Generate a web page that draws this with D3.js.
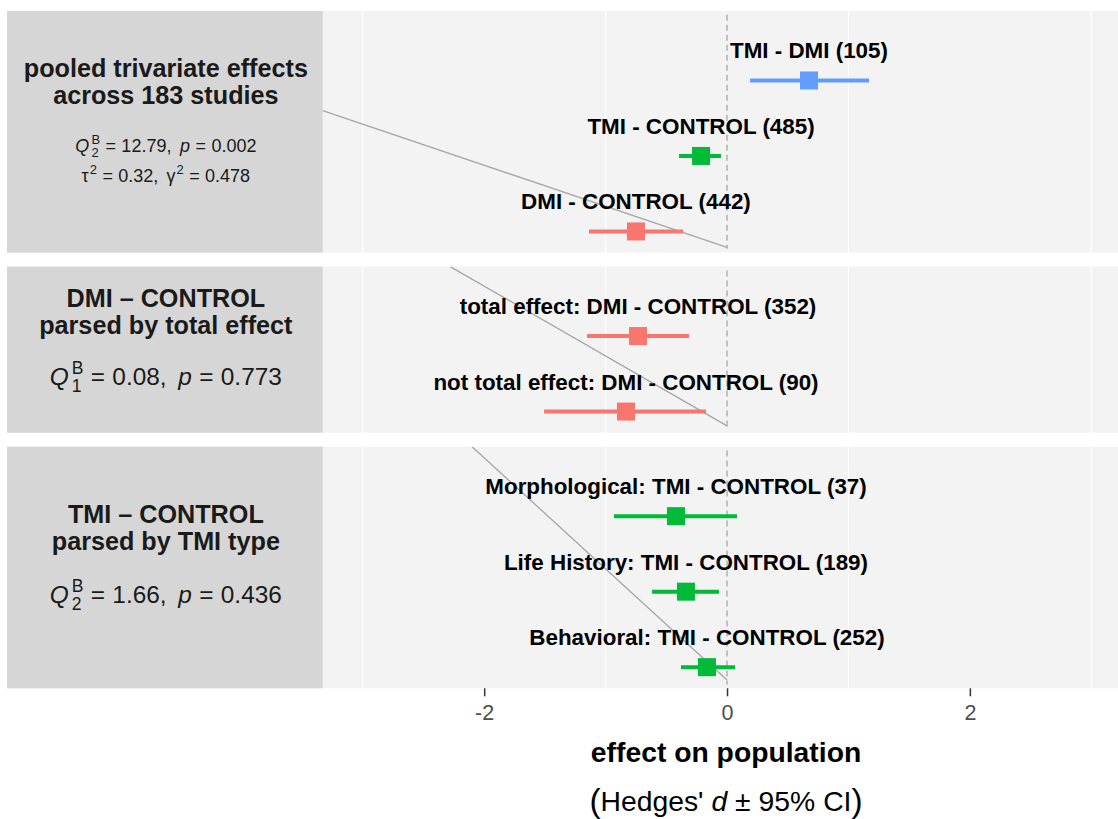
<!DOCTYPE html>
<html>
<head>
<meta charset="utf-8">
<script src="https://cdn.jsdelivr.net/npm/d3@7"></script>
<style>
  html, body { margin: 0; padding: 0; background: #ffffff; }
  svg { display: block; font-family: "Liberation Sans", Arial, Helvetica, sans-serif; }
</style>
</head>
<body>
<svg id="chart" width="1118" height="819"></svg>
<script>
// ---- data -------------------------------------------------------------
// one entry per comparison: label, panel, row (counted from the bottom of its panel)
const comparisonLabels = [
  "TMI - DMI (105)",
  "TMI - CONTROL (485)",
  "DMI - CONTROL (442)",
  "total effect: DMI - CONTROL (352)",
  "not total effect: DMI - CONTROL (90)",
  "Morphological: TMI - CONTROL (37)",
  "Life History: TMI - CONTROL (189)",
  "Behavioral: TMI - CONTROL (252)"
];
const comparisonType = ["TMI-DMI", "TMI-CONTROL", "DMI-CONTROL", "DMI-CONTROL", "DMI-CONTROL",
                        "TMI-CONTROL", "TMI-CONTROL", "TMI-CONTROL"];
const panelIndex = [0, 0, 0, 1, 1, 2, 2, 2];
const rowIndex   = [3, 2, 1, 2, 1, 3, 2, 1];
// Hedges' d with 95% confidence limits
const estimate = [0.675, -0.214, -0.750, -0.733, -0.832, -0.420, -0.338, -0.165];
const ciLower  = [0.190, -0.395, -1.137, -1.153, -1.507, -0.931, -0.618, -0.379];
const ciUpper  = [1.170, -0.050, -0.362, -0.313, -0.173,  0.082, -0.066,  0.066];

// panel annotations
const panelTitles = [
  ["pooled trivariate effects", "across 183 studies"],
  ["DMI \u2013 CONTROL", "parsed by total effect"],
  ["TMI \u2013 CONTROL", "parsed by TMI type"]
];
const panelRowCount = [3, 2, 3];
const qDf    = ["2", "1", "2"];
const qValue = ["12.79", "0.08", "1.66"];
const pValue = ["0.002", "0.773", "0.436"];
const tau2   = "0.32";
const gamma2 = "0.478";

// reference segments in each panel (effect units / row units)
const guideX0 = [-3.33, -2.28, -2.10];
const guideY0 = [2.60, 2.92, 3.92];
const guideX1 = [0, 0, 0];
const guideY1 = [0.79, 0.81, 0.83];

const xTicks = [-2, 0, 2];
const xMinorGrid = [-3, -1, 1, 3];
const xDomain = [-5.93, 3.22];
const labelBoxEdge = -3.33;

// ---- layout -----------------------------------------------------------
const colour = d3.scaleOrdinal()
  .domain(["TMI-DMI", "TMI-CONTROL", "DMI-CONTROL"])
  .range(["#619CFF", "#00BA38", "#F8766D"]);

const svg = d3.select("#chart");
const x = d3.scaleLinear().domain(xDomain).range([7, 1118]);

const rowUnit = 75.5, panelGap = 14, firstTop = 11;
const padLow = 0.28, padHigh = 0.92;
const panels = [];
let panelTop = firstTop;
panelRowCount.forEach((n) => {
  const height = (n - 1 + padLow + padHigh) * rowUnit;
  const y = d3.scaleLinear().domain([1 - padLow, n + padHigh]).range([panelTop + height, panelTop]);
  panels.push({ top: panelTop, bottom: panelTop + height, y });
  panelTop += height + panelGap;
});

// title text baselines, relative to panel top
const titleBaseline = [66, 40, 76];
const titleLineStep = 27;
const statsOffset = [48, 51, 53];
const statsLineStep = 30;

// lays out a line of mixed upright / italic / script pieces, centred on cx
function mathLine(parent, cx, baseline, size, parts, fill) {
  const g = parent.append("g").attr("fill", fill);
  let cursor = 0;
  parts.forEach(p => {
    if (p.gap !== undefined) { cursor += p.gap * size; return; }
    if (p.script) {
      const s = size * 0.72;
      const t = g.append("text").style("font-size", s + "px");
      let w = 0;
      if (p.sup) {
        const ts = t.append("tspan").attr("x", cursor).attr("y", -size * 0.42).text(p.sup);
        w = Math.max(w, ts.node().getComputedTextLength());
      }
      if (p.sub) {
        const ts = t.append("tspan").attr("x", cursor).attr("y", size * 0.3).text(p.sub);
        w = Math.max(w, ts.node().getComputedTextLength());
      }
      cursor += w;
      return;
    }
    const fs = size * (p.scale || 1);
    const t = g.append("text").attr("x", cursor).attr("y", p.dy ? p.dy * size : 0)
      .style("font-size", fs + "px")
      .style("font-style", p.italic ? "italic" : null)
      .text(p.t);
    cursor += t.node().getComputedTextLength();
  });
  g.attr("transform", `translate(${cx - cursor / 2},${baseline})`);
  return g;
}

const defs = svg.append("defs");
panels.forEach((P, i) => {
  defs.append("clipPath").attr("id", "clip" + i)
    .append("rect").attr("x", x.range()[0]).attr("y", P.top)
    .attr("width", x.range()[1] - x.range()[0]).attr("height", P.bottom - P.top);
});

panels.forEach((P, pi) => {
  const g = svg.append("g");
  // panel background
  g.append("rect").attr("x", x.range()[0]).attr("y", P.top)
    .attr("width", x.range()[1] - x.range()[0]).attr("height", P.bottom - P.top)
    .attr("fill", "#F3F3F3");
  // grid
  g.selectAll("line.grid").data(xMinorGrid).join("line")
    .attr("x1", d => x(d)).attr("x2", d => x(d))
    .attr("y1", P.top).attr("y2", P.bottom)
    .attr("stroke", "#ffffff").attr("stroke-width", 1.2);
  // sloped reference segment
  g.append("line").attr("clip-path", `url(#clip${pi})`)
    .attr("x1", x(guideX0[pi])).attr("y1", P.y(guideY0[pi]))
    .attr("x2", x(guideX1[pi])).attr("y2", P.y(guideY1[pi]))
    .attr("stroke", "#A6A6A6").attr("stroke-width", 1.3);
  // zero line
  g.append("line")
    .attr("x1", x(0)).attr("x2", x(0))
    .attr("y1", P.y(panelRowCount[pi] + padHigh - 0.05)).attr("y2", P.y(1 - padLow + 0.05))
    .attr("stroke", "#A0A0A0").attr("stroke-width", 1.2).attr("stroke-dasharray", "6,4");
  // label box
  g.append("rect").attr("x", x.range()[0]).attr("y", P.top)
    .attr("width", x(labelBoxEdge) - x.range()[0]).attr("height", P.bottom - P.top)
    .attr("fill", "#D6D6D6");

  const cx = (x.range()[0] + x(labelBoxEdge)) / 2 + 1;
  panelTitles[pi].forEach((t, li) => {
    g.append("text").attr("x", cx).attr("y", P.top + titleBaseline[pi] + li * titleLineStep)
      .attr("text-anchor", "middle").attr("font-weight", "bold")
      .style("font-size", "25.2px").attr("fill", "#1A1A1A").text(t);
  });
  const statSize = pi === 0 ? 18 : 24.4;
  const qBase = P.top + titleBaseline[pi] + titleLineStep + statsOffset[pi];
  mathLine(g, cx, qBase, statSize, [
    { t: "Q", italic: true }, { gap: 0.12 }, { script: true, sup: "B", sub: qDf[pi] },
    { gap: 0.3 }, { t: "=" }, { gap: 0.3 }, { t: qValue[pi] + "," }, { gap: 0.48 },
    { t: "p", italic: true }, { gap: 0.3 }, { t: "=" }, { gap: 0.3 }, { t: pValue[pi] }
  ], "#1A1A1A");
  if (pi === 0) {
    mathLine(g, cx, qBase + statsLineStep, statSize, [
      { t: "\u03C4" }, { gap: 0.06 }, { script: true, sup: "2" },
      { gap: 0.3 }, { t: "=" }, { gap: 0.3 }, { t: tau2 + "," }, { gap: 0.45 },
      { t: "\u03B3" }, { gap: 0.06 }, { script: true, sup: "2" },
      { gap: 0.3 }, { t: "=" }, { gap: 0.3 }, { t: gamma2 }
    ], "#1A1A1A");
  }
});

// ---- estimates --------------------------------------------------------
const idx = d3.range(comparisonLabels.length);
const marks = svg.append("g");
marks.selectAll("line.ci").data(idx).join("line")
  .attr("x1", i => x(ciLower[i])).attr("x2", i => x(ciUpper[i]))
  .attr("y1", i => panels[panelIndex[i]].y(rowIndex[i]))
  .attr("y2", i => panels[panelIndex[i]].y(rowIndex[i]))
  .attr("stroke", i => colour(comparisonType[i])).attr("stroke-width", 4);
const sq = 18;
marks.selectAll("rect.pt").data(idx).join("rect")
  .attr("x", i => x(estimate[i]) - sq / 2)
  .attr("y", i => panels[panelIndex[i]].y(rowIndex[i]) - sq / 2)
  .attr("width", sq).attr("height", sq)
  .attr("fill", i => colour(comparisonType[i]));
marks.selectAll("text.lab").data(idx).join("text")
  .attr("x", i => x(estimate[i]))
  .attr("y", i => panels[panelIndex[i]].y(rowIndex[i]) - 22)
  .attr("text-anchor", "middle").attr("font-weight", "bold")
  .style("font-size", "22.4px").attr("fill", "#000000")
  .text(i => comparisonLabels[i]);

// ---- axis -------------------------------------------------------------
const axisY = panels[panels.length - 1].bottom;
const axis = svg.append("g").attr("transform", `translate(0,${axisY})`)
  .call(d3.axisBottom(x).tickValues(xTicks).tickSize(8).tickPadding(8).tickFormat(d3.format("d")));
axis.select(".domain").remove();
axis.selectAll(".tick line").attr("stroke", "#333333").attr("stroke-width", 1.5);
axis.selectAll(".tick text").attr("fill", "#4D4D4D")
  .style("font-size", "21.5px").style("font-family", "\"Liberation Sans\", Arial, sans-serif")
  .text(d => d < 0 ? "-" + Math.abs(d) : d);

svg.append("text").attr("x", x(0) - 1).attr("y", 761.5)
  .attr("text-anchor", "middle").attr("font-weight", "bold")
  .style("font-size", "28.3px").attr("fill", "#000000").text("effect on population");
mathLine(svg, x(0) - 1, 811, 28.3, [
  { t: "(", scale: 1.18, dy: 0.05 }, { t: "Hedges'" }, { gap: 0.28 }, { t: "d", italic: true },
  { gap: 0.28 }, { t: "\u00B1" }, { gap: 0.28 }, { t: "95%" }, { gap: 0.28 }, { t: "CI" },
  { t: ")", scale: 1.18, dy: 0.05 }
], "#000000");
</script>
</body>
</html>
